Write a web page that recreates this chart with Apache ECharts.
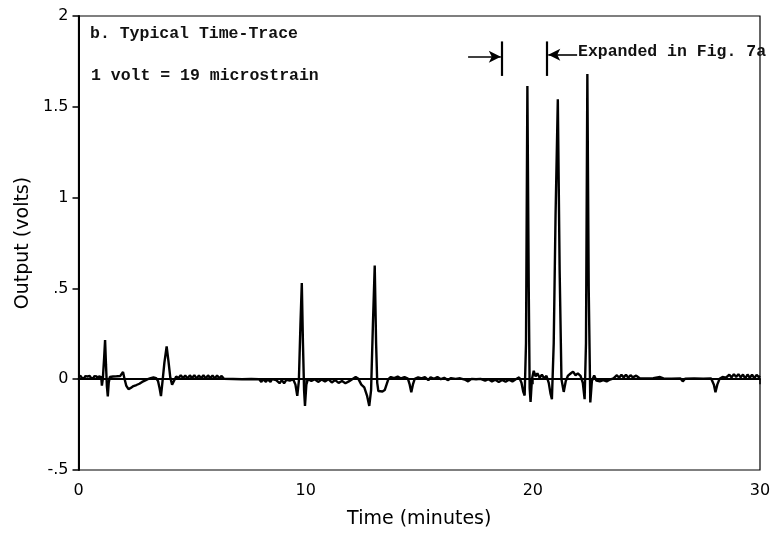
<!DOCTYPE html>
<html>
<head>
<meta charset="utf-8">
<script src="https://cdn.jsdelivr.net/npm/echarts@6/dist/echarts.min.js"></script>
<style>html,body{margin:0;padding:0;background:#fff;}#chart{width:774px;height:534px;}</style>
</head>
<body>
<div id="chart"></div>
<script>
// Time (minutes) and output (volts)
var timeMin = [
0.00,0.05,0.10,0.15,0.20,0.25,0.30,0.35,0.40,0.45,0.50,0.55,0.60,0.65,0.70,0.75,0.80,0.85,0.90,0.95,1.00,
1.03,1.07,1.13,1.17,1.21,1.25,1.29,1.33,1.38,1.45,1.52,1.60,1.68,1.76,1.84,1.91,1.96,2.02,2.10,2.20,2.30,2.42,2.55,2.68,2.80,2.92,3.05,3.18,3.30,3.42,3.50,3.57,3.63,3.70,3.78,3.88,3.96,4.04,4.12,4.17,4.24,4.30,
4.40,4.50,4.60,4.70,4.80,4.90,5.00,5.10,5.20,5.30,5.40,5.50,5.60,5.70,5.80,5.90,6.00,6.10,6.20,6.30,6.40,
6.80,7.20,7.60,7.95,8.05,8.12,8.25,8.32,8.45,8.52,8.70,8.85,8.95,9.05,9.15,9.30,9.45,9.55,9.63,9.70,9.77,9.83,9.88,9.93,9.97,
10.03,10.10,10.25,10.40,10.55,10.70,10.85,11.00,11.15,11.30,11.45,11.60,11.75,11.90,12.05,12.20,12.32,12.45,12.58,12.70,12.80,12.88,12.96,13.04,13.10,13.15,13.20,13.28,13.38,13.48,13.56,13.64,13.75,13.90,
14.05,14.20,14.35,14.50,14.58,14.65,14.72,14.80,14.95,15.10,15.25,15.40,15.50,15.65,15.80,15.95,16.10,16.25,16.40,16.60,16.80,17.00,17.15,17.30,17.50,17.70,17.90,18.05,18.20,18.35,18.50,18.65,18.80,18.95,19.10,19.25,19.40,
19.50,19.58,19.64,19.70,19.76,19.82,19.86,19.90,19.96,20.04,20.12,20.20,20.30,20.40,20.50,20.60,20.70,20.78,20.84,20.92,21.00,21.10,21.18,21.26,21.36,21.45,21.55,21.65,21.77,21.88,21.98,22.10,22.20,22.28,22.34,22.40,22.46,22.53,22.60,22.70,
22.80,22.95,23.10,23.25,23.40,23.55,23.70,23.80,23.90,24.00,24.10,24.20,24.30,24.40,24.55,24.70,25.00,25.30,25.60,25.75,26.10,26.50,26.60,26.70,27.10,27.50,27.85,27.97,28.04,28.12,28.22,
28.35,28.50,28.65,28.75,28.85,28.95,29.05,29.15,29.25,29.35,29.45,29.55,29.65,29.75,29.85,29.95,30.00
];
var outputVolts = [
0.012,0.004,0.018,0.006,0.016,0.005,0.017,0.007,0.015,0.004,0.018,0.006,0.014,0.005,0.017,0.008,0.015,0.003,0.016,0.006,0.012,
-0.035,0.000,0.120,0.215,0.080,-0.040,-0.095,-0.020,0.012,0.006,0.015,0.008,0.016,0.010,0.018,0.025,0.040,0.005,-0.035,-0.055,-0.048,-0.038,-0.032,-0.025,-0.015,-0.008,0.000,0.006,0.010,0.006,-0.010,-0.050,-0.093,-0.010,0.090,0.180,0.100,0.010,-0.030,-0.035,0.000,0.015,
0.005,0.022,0.006,0.020,0.004,0.021,0.006,0.022,0.003,0.020,0.005,0.022,0.004,0.021,0.006,0.020,0.004,0.021,0.005,0.018,0.002,
0.001,0.000,0.001,0.000,-0.015,0.000,-0.015,0.000,-0.015,0.000,-0.005,-0.022,-0.005,-0.022,-0.004,-0.008,0.000,-0.030,-0.092,-0.010,0.300,0.530,0.200,-0.060,-0.147,
-0.030,0.000,-0.010,0.000,-0.015,-0.002,-0.012,0.000,-0.018,-0.005,-0.020,-0.010,-0.022,-0.012,0.000,0.012,0.002,-0.030,-0.045,-0.090,-0.147,-0.060,0.300,0.626,0.200,-0.020,-0.065,-0.072,-0.068,-0.060,-0.030,0.000,0.012,0.006,
0.014,0.004,0.012,0.003,-0.030,-0.072,-0.030,0.002,0.010,0.004,0.012,-0.005,0.010,0.002,0.012,0.000,0.008,-0.005,0.006,0.002,0.005,-0.002,-0.012,0.002,0.000,0.002,-0.008,0.000,-0.012,-0.003,-0.015,-0.004,-0.014,-0.003,-0.013,0.000,0.010,
-0.020,-0.070,-0.090,0.200,1.615,0.500,-0.050,-0.125,0.000,0.046,0.015,0.032,0.008,0.025,0.005,0.018,-0.020,-0.080,-0.110,0.200,0.900,1.542,0.600,0.000,-0.070,-0.010,0.020,0.030,0.042,0.022,0.032,0.018,-0.020,-0.110,0.200,1.680,0.500,-0.128,-0.010,0.020,
-0.008,-0.012,-0.005,-0.012,-0.002,0.005,0.022,0.008,0.024,0.010,0.025,0.008,0.022,0.010,0.020,0.005,0.004,0.006,0.012,0.004,0.003,0.004,-0.012,0.003,0.004,0.003,0.004,-0.030,-0.072,-0.030,0.002,
0.012,0.008,0.025,0.010,0.028,0.012,0.028,0.010,0.026,0.004,0.026,0.008,0.025,0.006,0.024,0.012,0.018
];
var xTicks = [0, 10, 20, 30];
var yTickLabels = ['-.5', '0', '.5', '1', '1.5', '2'];
// Annotation: expanded interval (minutes) and marker heights (volts)
var expandedRange = [18.65, 20.62];
var markerSpan = [1.67, 1.86];
var arrowY = [1.775, 1.786];
var arrowTails = [17.15, 21.95];

var chart = echarts.init(document.getElementById('chart'), null, {renderer: 'canvas'});
var pts = timeMin.map(function (t, i) { return [t, outputVolts[i]]; });
var yLabelMap = {};
yTickLabels.forEach(function (s, i) { yLabelMap[(-0.5 + i * 0.5).toFixed(1)] = s; });

var monoFont = '"Liberation Mono", "DejaVu Sans Mono", monospace';
var axisFont = '"DejaVu Sans", sans-serif';

chart.setOption({
  animation: false,
  backgroundColor: '#fff',
  grid: {left: 78.5, right: 14, top: 16, bottom: 63, show: true, borderColor: '#000', borderWidth: 1.2, backgroundColor: 'transparent'},
  xAxis: {
    type: 'value', min: 0, max: 30, interval: 10,
    name: 'Time (minutes)', nameLocation: 'middle', nameGap: 40,
    nameTextStyle: {fontFamily: axisFont, fontSize: 19, color: '#000'},
    axisLine: {lineStyle: {color: '#000', width: 2}},
    axisTick: {show: true, inside: false, length: 5, lineStyle: {color: '#000', width: 1.5}},
    axisLabel: {fontFamily: axisFont, fontSize: 16, color: '#000', margin: 13},
    splitLine: {show: false}
  },
  yAxis: {
    type: 'value', min: -0.5, max: 2, interval: 0.5,
    name: 'Output (volts)', nameLocation: 'middle', nameGap: 43, nameRotate: 90,
    nameTextStyle: {fontFamily: axisFont, fontSize: 19, color: '#000'},
    axisLine: {onZero: false, lineStyle: {color: '#000', width: 2}},
    axisTick: {show: true, length: 6, lineStyle: {color: '#000', width: 1.5}},
    axisLabel: {fontFamily: axisFont, fontSize: 16, color: '#000', margin: 10,
      formatter: function (v) { return yLabelMap[v.toFixed(1)]; }},
    splitLine: {show: false}
  },
  series: [
    {
      type: 'line', data: pts, showSymbol: false, symbol: 'none',
      lineStyle: {color: '#000', width: 2.4}, z: 3,
      markLine: {
        silent: true, animation: false, label: {show: false},
        symbolSize: [9, 12],
        data: [
          [{coord: [expandedRange[0], markerSpan[0]], symbol: 'none', lineStyle: {color: '#000', width: 2.2, type: 'solid'}},
           {coord: [expandedRange[0], markerSpan[1]], symbol: 'none'}],
          [{coord: [expandedRange[1], markerSpan[0]], symbol: 'none', lineStyle: {color: '#000', width: 2.2, type: 'solid'}},
           {coord: [expandedRange[1], markerSpan[1]], symbol: 'none'}],
          [{coord: [arrowTails[0], arrowY[0]], symbol: 'none', lineStyle: {color: '#000', width: 1.6, type: 'solid'}},
           {coord: [expandedRange[0] - 0.06, arrowY[0]], symbol: 'arrow'}],
          [{coord: [arrowTails[1], arrowY[1]], symbol: 'none', lineStyle: {color: '#000', width: 1.6, type: 'solid'}},
           {coord: [expandedRange[1] + 0.06, arrowY[1]], symbol: 'arrow'}]
        ]
      }
    }
  ],
  graphic: [
    {type: 'text', left: 90, top: 25, style: {text: 'b. Typical Time-Trace', font: 'bold 16.5px ' + monoFont, fill: '#111'}},
    {type: 'text', left: 91, top: 67, style: {text: '1 volt = 19 microstrain', font: 'bold 16.5px ' + monoFont, fill: '#111'}},
    {type: 'text', left: 578, top: 43, style: {text: 'Expanded in Fig. 7a', font: 'bold 16.5px ' + monoFont, fill: '#111'}}
  ]
});
</script>
</body>
</html>
